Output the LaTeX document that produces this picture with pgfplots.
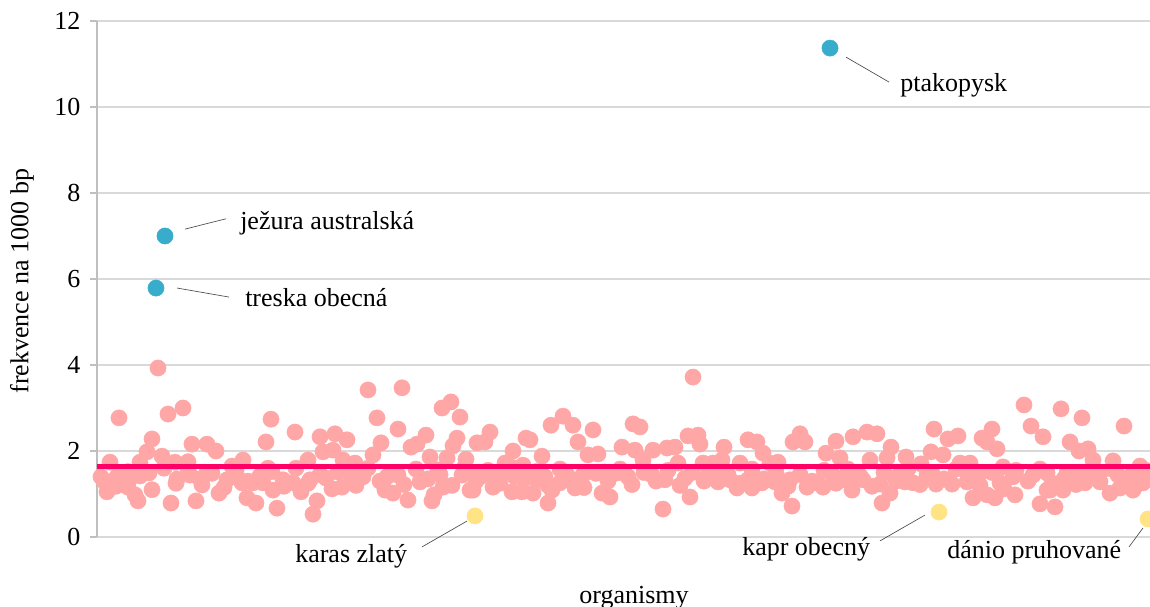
\documentclass[border=0pt]{standalone}
\usepackage{pgfplots}
\pgfplotsset{compat=1.18}
\usepackage{fontspec}
\setmainfont{Liberation Serif}
\definecolor{pinkpt}{HTML}{FFA6A6}
\definecolor{meanln}{HTML}{FF0066}
\definecolor{bluept}{HTML}{38ACCB}
\definecolor{yellowpt}{HTML}{FFE384}
\definecolor{gridc}{HTML}{D9D9D9}
\definecolor{axc}{HTML}{BFBFBF}
\begin{document}
\begin{tikzpicture}
\begin{axis}[name=ax,
  scale only axis, width=789.75pt, height=387pt,
  xmin=97, xmax=1150, ymin=0, ymax=12,
  ytick={0,2,...,12}, xtick=\empty,
  axis x line=none, axis y line*=left,
  axis line style={draw=axc, line width=1.5pt},
  ymajorgrids, grid style={draw=gridc, line width=1.5pt},
  tick align=outside, major tick length=5.25pt,
  tick style={draw=axc, line width=1.2pt},
  /pgf/number format/assume math mode=true,
  ticklabel style={font=\fontsize{19.5}{23}\selectfont},
  yticklabel style={inner sep=0pt, xshift=-7pt},
  clip=false, clip marker paths=true,
]
% organisms (pink)
\addplot[only marks, color=pinkpt, mark=*, mark size=6.1pt, mark options={draw=pinkpt, fill=pinkpt, line width=0.3pt}] table {
x y
158 3.93
119 2.77
168 2.86
183 3.00
271 2.74
152 2.28
192 2.16
207 2.16
216 2.00
266 2.21
147 1.98
162 1.88
110 1.74
140 1.74
175 1.74
187 1.65
243 1.79
232 1.65
268 1.60
101 1.40
117 1.40
130 1.37
149 1.49
177 1.35
190 1.44
202 1.21
207 1.49
219 1.02
227 1.33
237 1.40
242 1.26
253 1.26
263 1.26
273 1.09
283 1.33
107 1.05
128 1.16
135 0.98
138 0.84
171 0.79
196 0.84
247 0.91
256 0.79
277 0.67
368 3.42
402 3.47
442 3.00
451 3.14
460 2.79
377 2.77
295 2.44
398 2.51
320 2.33
335 2.40
347 2.26
426 2.37
457 2.30
381 2.19
411 2.09
417 2.16
453 2.12
477 2.19
323 1.98
333 2.02
373 1.91
308 1.79
343 1.79
355 1.72
430 1.86
447 1.84
466 1.81
293 1.26
310 1.33
326 1.37
338 1.51
352 1.37
363 1.40
387 1.40
398 1.44
420 1.28
438 1.56
462 1.44
477 1.44
301 1.05
342 1.16
385 1.09
393 1.02
434 0.98
443 1.16
470 1.09
317 0.84
313 0.53
408 0.86
432 0.84
563 2.81
551 2.60
573 2.60
593 2.49
490 2.44
485 2.21
526 2.30
530 2.26
633 2.63
640 2.56
578 2.21
513 2.00
542 1.88
622 2.09
635 2.02
653 2.02
667 2.07
588 1.91
598 1.93
505 1.72
523 1.67
643 1.79
480 1.40
493 1.44
503 1.49
515 1.40
537 1.33
545 1.40
567 1.44
583 1.44
605 1.51
617 1.49
628 1.40
652 1.44
665 1.33
473 1.09
493 1.16
512 1.05
522 1.05
533 1.02
552 1.09
560 1.26
575 1.14
602 1.02
610 0.93
548 0.79
663 0.65
693 3.72
688 2.35
698 2.37
700 2.16
675 2.09
724 2.09
748 2.26
757 2.21
793 2.21
800 2.40
805 2.21
836 2.23
853 2.33
763 1.95
826 1.95
840 1.84
678 1.72
703 1.72
713 1.72
722 1.79
740 1.72
770 1.72
778 1.74
685 1.37
708 1.44
718 1.28
730 1.33
737 1.14
748 1.33
752 1.14
762 1.26
775 1.28
782 1.02
790 1.33
807 1.16
817 1.26
823 1.16
833 1.44
845 1.33
852 1.09
690 0.93
792 0.72
867 2.44
877 2.40
934 2.51
948 2.28
958 2.35
982 2.30
992 2.51
987 2.21
997 2.05
891 2.09
931 1.98
943 1.91
887 1.84
870 1.79
906 1.86
960 1.72
970 1.72
921 1.70
853 1.33
863 1.33
880 1.23
897 1.40
905 1.28
913 1.26
927 1.44
936 1.23
952 1.23
967 1.28
980 1.49
882 0.79
890 1.02
973 0.91
987 0.98
995 0.91
1000 1.26
1047 1.09
1024 3.07
1061 2.98
1082 2.77
1124 2.58
1031 2.58
1043 2.33
1070 2.21
1079 2.00
1088 2.05
1093 1.79
1113 1.77
1140 1.65
1003 1.63
1013 1.40
1033 1.44
1047 1.49
1067 1.49
1080 1.44
1100 1.49
1118 1.44
1133 1.49
1147 1.40
1015 0.98
1050 1.09
1063 1.09
1085 1.26
1110 1.02
1120 1.14
1133 1.09
1143 1.26
1040 0.77
1055 0.70
104 1.30
116 1.18
128 1.52
140 1.42
152 1.10
164 1.60
176 1.25
188 1.75
200 1.35
212 1.48
224 1.15
236 1.55
248 1.30
260 1.42
272 1.52
284 1.18
296 1.60
308 1.25
320 1.45
332 1.12
344 1.55
356 1.20
368 1.60
380 1.30
392 1.50
404 1.22
416 1.58
428 1.35
440 1.45
452 1.20
464 1.60
476 1.30
488 1.55
500 1.25
512 1.62
524 1.35
536 1.52
548 1.20
560 1.58
572 1.32
584 1.15
596 1.48
608 1.30
620 1.58
632 1.22
644 1.50
656 1.30
668 1.55
680 1.20
692 1.50
704 1.30
716 1.55
728 1.45
740 1.25
752 1.58
764 1.35
776 1.50
788 1.18
800 1.45
812 1.30
824 1.55
836 1.25
848 1.58
860 1.42
872 1.18
884 1.50
896 1.30
908 1.58
920 1.22
932 1.48
944 1.35
956 1.58
968 1.45
980 1.20
992 1.50
1004 1.12
1016 1.55
1028 1.30
1040 1.58
1052 1.25
1064 1.35
1076 1.22
1088 1.52
1100 1.28
1112 1.58
1124 1.30
1136 1.20
1146 1.55
};
% mean
\addplot[draw=meanln, line width=3.75pt] coordinates {(97,1.65) (1150,1.65)};
% highlighted high
\addplot[only marks, color=bluept, mark=*, mark size=6.1pt, mark options={draw=bluept, fill=bluept, line width=0.3pt}] coordinates {(156,5.79) (165,7.00) (830,11.37)};
% highlighted low
\addplot[only marks, color=yellowpt, mark=*, mark size=6.1pt, mark options={draw=yellowpt, fill=yellowpt, line width=0.3pt}] coordinates {(475,0.49) (939,0.58) (1148,0.42)};
% leader lines
\draw[black!70, line width=0.5pt] (axis cs:846,11.16) -- (axis cs:889,10.58);
\draw[black!70, line width=0.5pt] (axis cs:185,7.16) -- (axis cs:226,7.40);
\draw[black!70, line width=0.5pt] (axis cs:177,5.79) -- (axis cs:229,5.58);
\draw[black!70, line width=0.5pt] (axis cs:467,0.37) -- (axis cs:422,-0.23);
\draw[black!70, line width=0.5pt] (axis cs:925,0.51) -- (axis cs:880,-0.09);
\draw[black!70, line width=0.5pt] (axis cs:1143,0.21) -- (axis cs:1129,-0.23);
% labels
\node[anchor=base west, inner sep=0pt, font=\fontsize{19.5}{23}\selectfont] at (axis cs:900,10.36) {ptakopysk};
\node[anchor=base west, inner sep=0pt, font=\fontsize{19.5}{23}\selectfont] at (axis cs:240,7.16) {ježura australská};
\node[anchor=base west, inner sep=0pt, font=\fontsize{19.5}{23}\selectfont] at (axis cs:245,5.35) {treska obecná};
\node[anchor=base west, inner sep=0pt, font=\fontsize{19.5}{23}\selectfont] at (axis cs:295,-0.60) {karas zlatý};
\node[anchor=base west, inner sep=0pt, font=\fontsize{19.5}{23}\selectfont] at (axis cs:742,-0.42) {kapr obecný};
\node[anchor=base west, inner sep=0pt, font=\fontsize{19.5}{23}\selectfont] at (axis cs:947,-0.51) {dánio pruhované};
\node[anchor=base, inner sep=0pt, font=\fontsize{19.5}{23}\selectfont] at (axis cs:634,-1.535) {organismy};
\node[rotate=90, anchor=center, inner sep=0pt, font=\fontsize{19.5}{23}\selectfont] at (axis cs:22,5.95) {frekvence na 1000 bp};
\end{axis}
\pgfresetboundingbox
\path[use as bounding box] ([xshift=-72.75pt,yshift=-52.5pt]ax.south west) rectangle ([yshift=15.75pt]ax.north east);
\end{tikzpicture}
\end{document}
